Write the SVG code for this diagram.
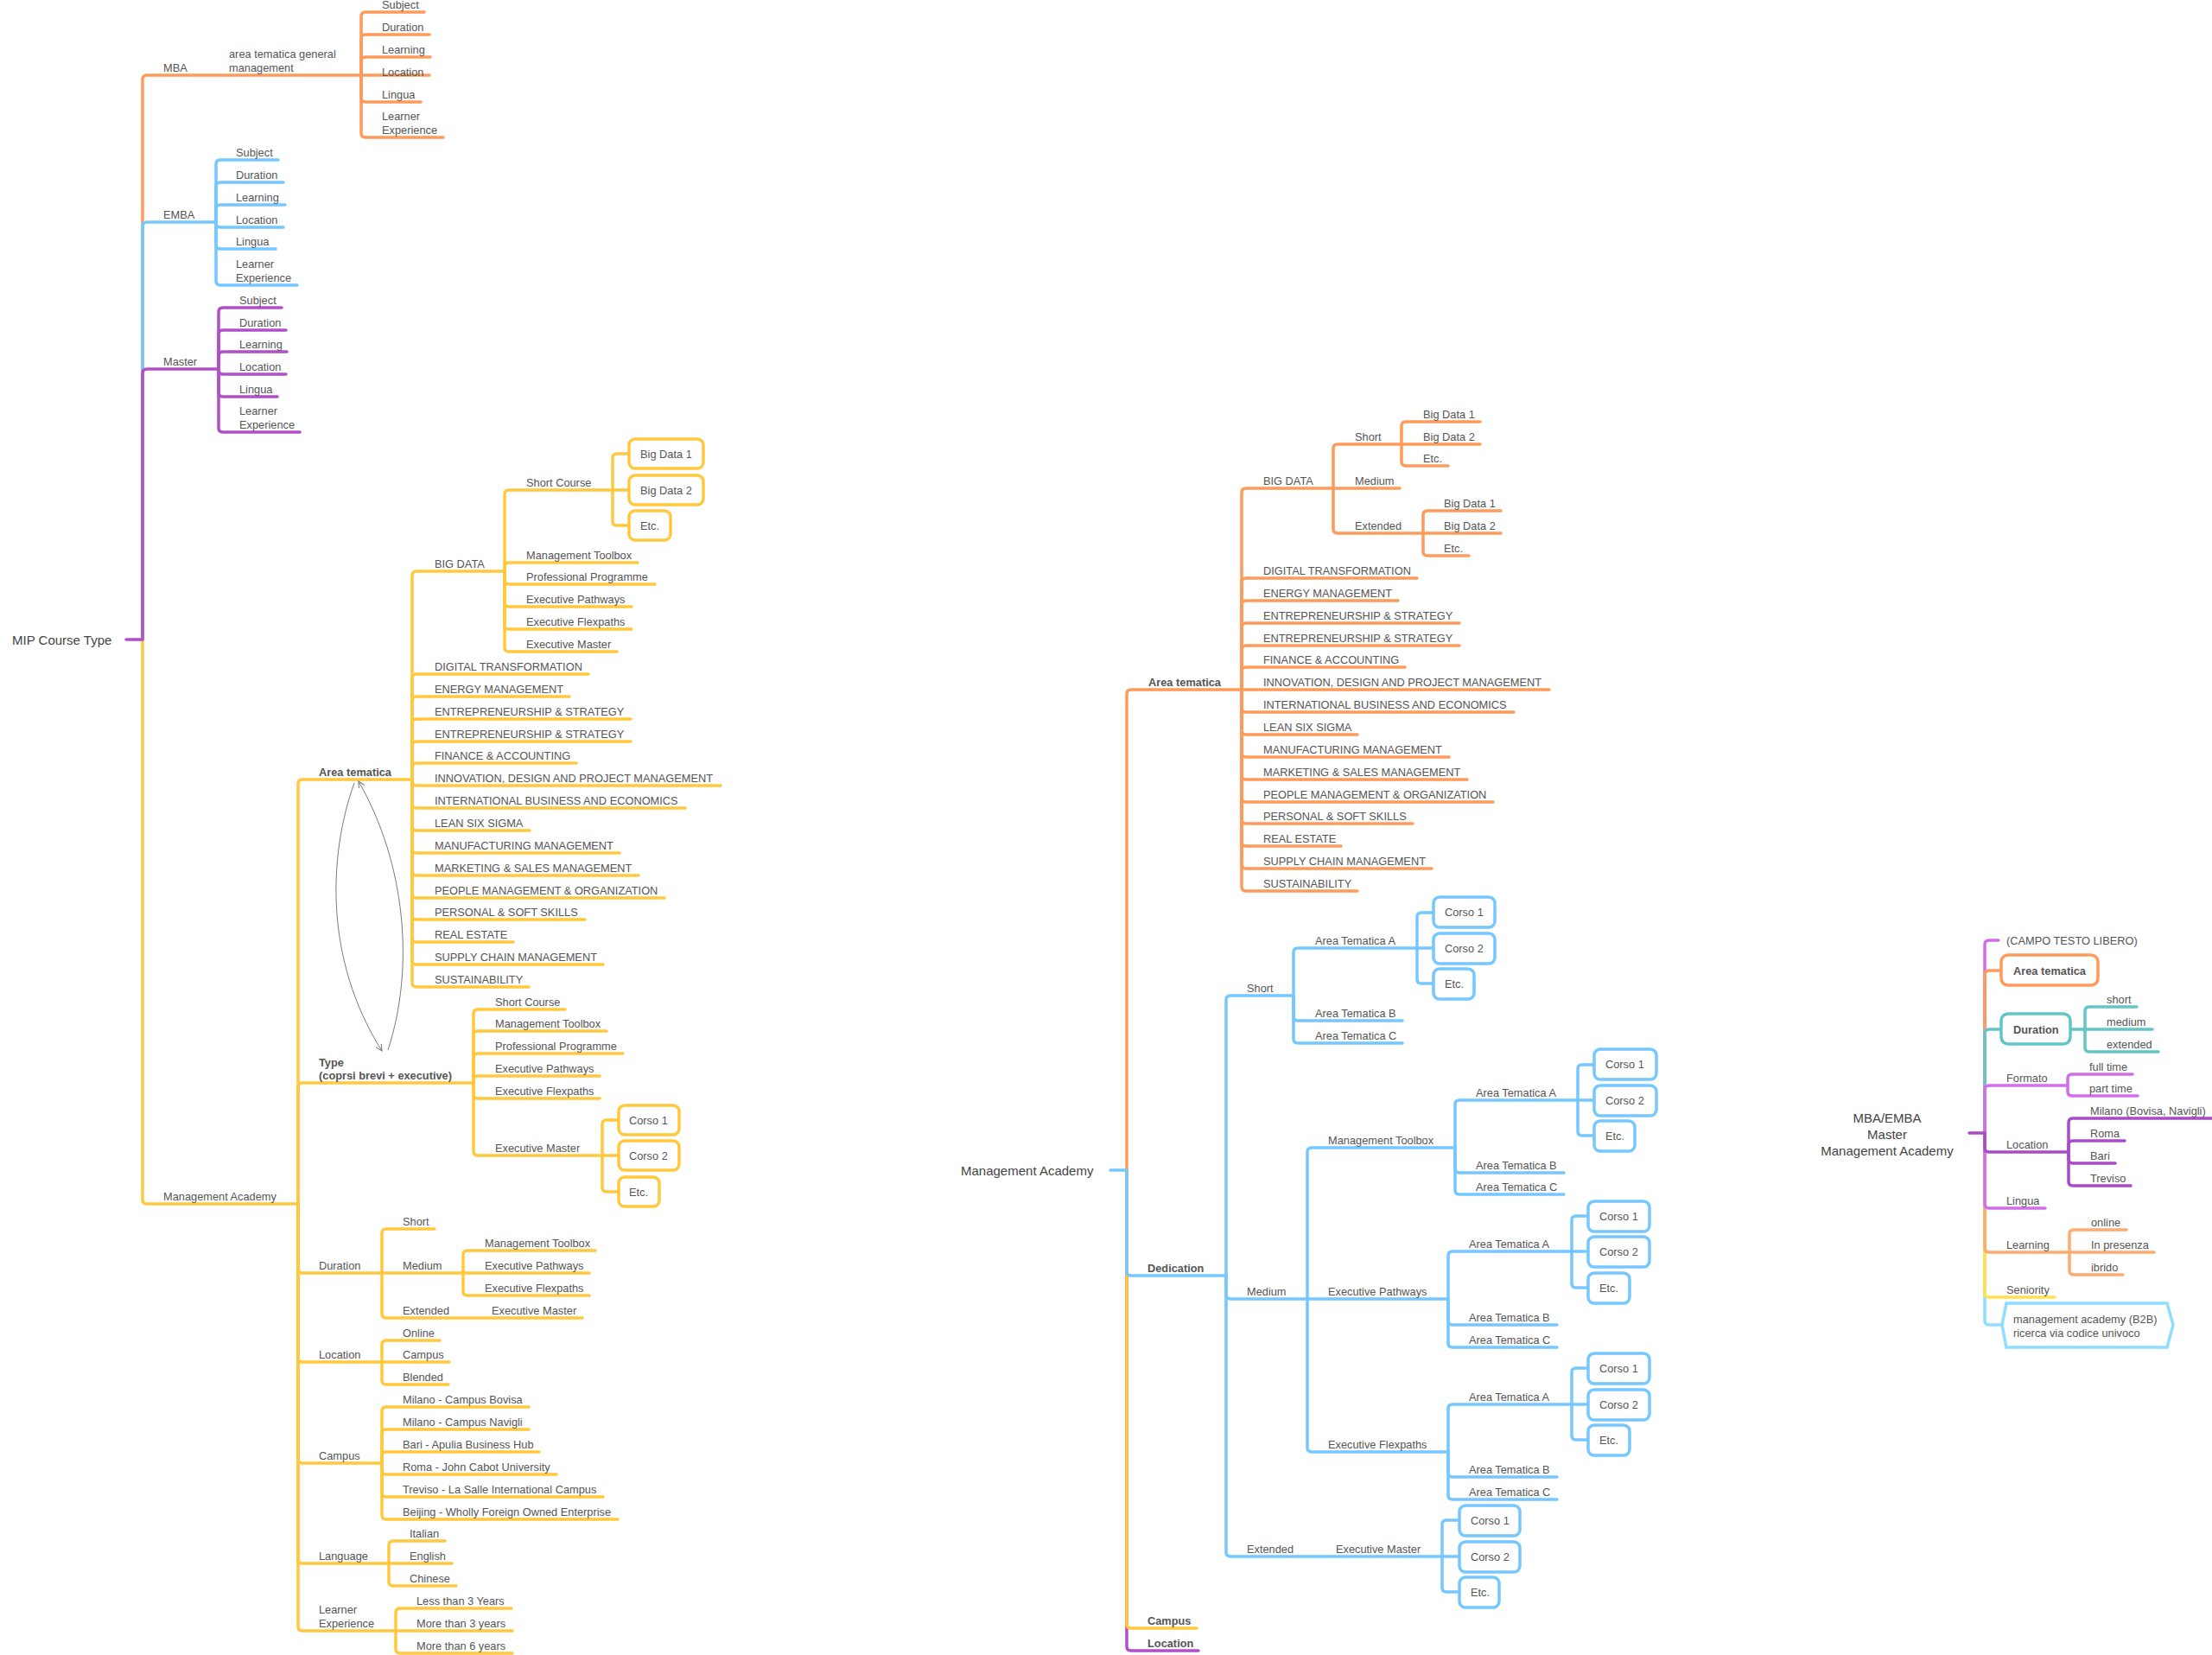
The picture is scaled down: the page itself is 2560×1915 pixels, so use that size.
<svg xmlns="http://www.w3.org/2000/svg" width="2560" height="1915" viewBox="0 0 2560 1915">
<style>
.c{fill:none;stroke-width:3.5;stroke-linecap:round;stroke-linejoin:round}
.o{stroke:#FF9B5A}.b{stroke:#74C7FF}.p{stroke:#B14FCB}.y{stroke:#FFC83D}
.t{stroke:#62C6C9}.lp{stroke:#D16EE8}.dp{stroke:#A94BC6}.lo{stroke:#FFAA6E}.by{stroke:#FFE24A}.cy{stroke:#8FDDFF}
.box{fill:#fff;stroke-width:3.5}
text{font-family:"Liberation Sans",Arial,Helvetica,sans-serif;font-size:12.8px;fill:#555}
.bd{font-weight:bold}
.rt{font-size:15px;fill:#444}
.rel{fill:none;stroke:#7a7a7a;stroke-width:1}
</style>
<defs>
<marker id="arr" viewBox="0 0 10 10" refX="9" refY="5" markerWidth="9" markerHeight="9" orient="auto" markerUnits="userSpaceOnUse">
<path d="M1,1 L9,5 L1,9" fill="none" stroke="#7a7a7a" stroke-width="1.2"/>
</marker>
</defs>
<rect width="2560" height="1915" fill="#fff"/>
<g id="connectors">
<!-- LEFT TREE -->
<path class="c o" d="M165 740V92Q165 87 170 87H418"/>
<path class="c b" d="M165 740V262Q165 257 170 257H250"/>
<path class="c p" d="M165 740V432Q165 427 170 427H253"/>
<path class="c y" d="M165 740V1388Q165 1393 170 1393H345"/>
<path class="c p" d="M146 740H165"/>
<g class="c o">
<path d="M418 87V19Q418 14 423 14H491"/><path d="M418 87V45Q418 40 423 40H497"/><path d="M418 87V71Q418 66 423 66H498"/><path d="M418 87H497"/><path d="M418 87V113Q418 118 423 118H487"/><path d="M418 87V154Q418 159 423 159H513"/>
</g>
<g class="c b">
<path d="M250 257V190Q250 185 255 185H322"/><path d="M250 257V216Q250 211 255 211H328"/><path d="M250 257V242Q250 237 255 237H330"/><path d="M250 257V258Q250 263 255 263H328"/><path d="M250 257V283Q250 288 255 288H319"/><path d="M250 257V325Q250 330 255 330H344"/>
</g>
<g class="c p">
<path d="M253 427V361Q253 356 258 356H326"/><path d="M253 427V387Q253 382 258 382H331"/><path d="M253 427V412Q253 407 258 407H332"/><path d="M253 427V428Q253 433 258 433H331"/><path d="M253 427V454Q253 459 258 459H321"/><path d="M253 427V495Q253 500 258 500H347"/>
</g>
<g class="c y">
<path d="M345 1393V907Q345 902 350 902H477"/><path d="M345 1393V1258Q345 1253 350 1253H548"/><path d="M345 1393V1468Q345 1473 350 1473H442"/><path d="M345 1393V1571Q345 1576 350 1576H442"/><path d="M345 1393V1688Q345 1693 350 1693H442"/><path d="M345 1393V1804Q345 1809 350 1809H450"/><path d="M345 1393V1882Q345 1887 350 1887H458"/>
<path d="M477 902V666Q477 661 482 661H584"/><path d="M477 902V785Q477 780 482 780H681"/><path d="M477 902V811Q477 806 482 806H659"/><path d="M477 902V837Q477 832 482 832H730"/><path d="M477 902V863Q477 858 482 858H730"/><path d="M477 902V888Q477 883 482 883H667"/><path d="M477 902V904Q477 909 482 909H834"/><path d="M477 902V930Q477 935 482 935H793"/><path d="M477 902V956Q477 961 482 961H613"/><path d="M477 902V982Q477 987 482 987H717"/><path d="M477 902V1008Q477 1013 482 1013H739"/><path d="M477 902V1034Q477 1039 482 1039H769"/><path d="M477 902V1059Q477 1064 482 1064H677"/><path d="M477 902V1085Q477 1090 482 1090H594"/><path d="M477 902V1111Q477 1116 482 1116H698"/><path d="M477 902V1137Q477 1142 482 1142H612"/>
<path d="M584 661V572Q584 567 589 567H709"/><path d="M584 661V656Q584 651 589 651H738"/><path d="M584 661V671Q584 676 589 676H758"/><path d="M584 661V697Q584 702 589 702H731"/><path d="M584 661V723Q584 728 589 728H731"/><path d="M584 661V749Q584 754 589 754H714"/>
<path d="M709 567V530Q709 525 714 525H728"/><path d="M709 567H728"/><path d="M709 567V603Q709 608 714 608H728"/>
<path d="M548 1253V1173Q548 1168 553 1168H654"/><path d="M548 1253V1198Q548 1193 553 1193H702"/><path d="M548 1253V1224Q548 1219 553 1219H721"/><path d="M548 1253V1250Q548 1245 553 1245H694"/><path d="M548 1253V1266Q548 1271 553 1271H694"/><path d="M548 1253V1332Q548 1337 553 1337H697"/>
<path d="M697 1337V1301Q697 1296 702 1296H716"/><path d="M697 1337H716"/><path d="M697 1337V1374Q697 1379 702 1379H716"/>
<path d="M442 1473V1427Q442 1422 447 1422H503"/><path d="M442 1473H536"/><path d="M442 1473V1520Q442 1525 447 1525H674"/>
<path d="M536 1473V1452Q536 1447 541 1447H689"/><path d="M536 1473H682"/><path d="M536 1473V1494Q536 1499 541 1499H682"/>
<path d="M442 1576V1556Q442 1551 447 1551H509"/><path d="M442 1576H520"/><path d="M442 1576V1597Q442 1602 447 1602H519"/>
<path d="M442 1693V1633Q442 1628 447 1628H612"/><path d="M442 1693V1659Q442 1654 447 1654H612"/><path d="M442 1693V1685Q442 1680 447 1680H624"/><path d="M442 1693V1701Q442 1706 447 1706H644"/><path d="M442 1693V1727Q442 1732 447 1732H698"/><path d="M442 1693V1753Q442 1758 447 1758H715"/>
<path d="M450 1809V1788Q450 1783 455 1783H515"/><path d="M450 1809H523"/><path d="M450 1809V1830Q450 1835 455 1835H528"/>
<path d="M458 1887V1866Q458 1861 463 1861H592"/><path d="M458 1887H593"/><path d="M458 1887V1908Q458 1913 463 1913H593"/>
</g>
<path class="rel" d="M410 906C380 990 375 1110 442 1216" marker-end="url(#arr)"/>
<path class="rel" d="M449 1215C480 1120 470 1000 415 904" marker-end="url(#arr)"/>
<!-- MIDDLE TREE -->
<path class="c p" d="M1304 1354V1905Q1304 1910 1309 1910H1387"/>
<path class="c y" d="M1304 1354V1879Q1304 1884 1309 1884H1385"/>
<path class="c b" d="M1304 1354V1471Q1304 1476 1309 1476H1419"/>
<path class="c o" d="M1304 1354V803Q1304 798 1309 798H1437"/>
<path class="c b" d="M1285 1354H1304"/>
<g class="c o">
<path d="M1437 798V570Q1437 565 1442 565H1543"/><path d="M1437 798V674Q1437 669 1442 669H1640"/><path d="M1437 798V700Q1437 695 1442 695H1618"/><path d="M1437 798V726Q1437 721 1442 721H1689"/><path d="M1437 798V752Q1437 747 1442 747H1689"/><path d="M1437 798V777Q1437 772 1442 772H1626"/><path d="M1437 798H1793"/><path d="M1437 798V819Q1437 824 1442 824H1752"/><path d="M1437 798V845Q1437 850 1442 850H1571"/><path d="M1437 798V871Q1437 876 1442 876H1677"/><path d="M1437 798V897Q1437 902 1442 902H1698"/><path d="M1437 798V923Q1437 928 1442 928H1728"/><path d="M1437 798V948Q1437 953 1442 953H1635"/><path d="M1437 798V974Q1437 979 1442 979H1552"/><path d="M1437 798V1000Q1437 1005 1442 1005H1657"/><path d="M1437 798V1026Q1437 1031 1442 1031H1571"/>
<path d="M1543 565V519Q1543 514 1548 514H1622"/><path d="M1543 565H1620"/><path d="M1543 565V612Q1543 617 1548 617H1647"/>
<path d="M1622 514V493Q1622 488 1627 488H1713"/><path d="M1622 514H1713"/><path d="M1622 514V534Q1622 539 1627 539H1676"/>
<path d="M1647 617V596Q1647 591 1652 591H1737"/><path d="M1647 617H1737"/><path d="M1647 617V638Q1647 643 1652 643H1700"/>
</g>
<g class="c b">
<path d="M1419 1476V1157Q1419 1152 1424 1152H1497"/><path d="M1419 1476V1498Q1419 1503 1424 1503H1513"/><path d="M1419 1476V1796Q1419 1801 1424 1801H1669"/>
<path d="M1497 1152V1102Q1497 1097 1502 1097H1640"/><path d="M1497 1152V1176Q1497 1181 1502 1181H1623"/><path d="M1497 1152V1202Q1497 1207 1502 1207H1623"/>
<path d="M1640 1097V1061Q1640 1056 1645 1056H1659"/><path d="M1640 1097H1659"/><path d="M1640 1097V1133Q1640 1138 1645 1138H1659"/>
<path d="M1513 1503V1333Q1513 1328 1518 1328H1684"/><path d="M1513 1503H1676"/><path d="M1513 1503V1675Q1513 1680 1518 1680H1676"/>
<path d="M1684 1328V1278Q1684 1273 1689 1273H1826"/><path d="M1684 1328V1352Q1684 1357 1689 1357H1810"/><path d="M1684 1328V1377Q1684 1382 1689 1382H1810"/>
<path d="M1826 1273V1237Q1826 1232 1831 1232H1845"/><path d="M1826 1273H1845"/><path d="M1826 1273V1309Q1826 1314 1831 1314H1845"/>
<path d="M1676 1503V1453Q1676 1448 1681 1448H1819"/><path d="M1676 1503V1528Q1676 1533 1681 1533H1802"/><path d="M1676 1503V1554Q1676 1559 1681 1559H1802"/>
<path d="M1819 1448V1412Q1819 1407 1824 1407H1838"/><path d="M1819 1448H1838"/><path d="M1819 1448V1485Q1819 1490 1824 1490H1838"/>
<path d="M1676 1680V1630Q1676 1625 1681 1625H1819"/><path d="M1676 1680V1704Q1676 1709 1681 1709H1802"/><path d="M1676 1680V1730Q1676 1735 1681 1735H1802"/>
<path d="M1819 1625V1588Q1819 1583 1824 1583H1838"/><path d="M1819 1625H1838"/><path d="M1819 1625V1661Q1819 1666 1824 1666H1838"/>
<path d="M1669 1801V1764Q1669 1759 1674 1759H1689"/><path d="M1669 1801H1689"/><path d="M1669 1801V1837Q1669 1842 1674 1842H1689"/>
</g>
<!-- RIGHT TREE -->
<path class="c lp" d="M2297 1311V1093Q2297 1088 2302 1088H2313"/>
<path class="c o" d="M2297 1311V1128Q2297 1123 2302 1123H2316"/>
<path class="c t" d="M2297 1311V1196Q2297 1191 2302 1191H2316"/>
<path class="c lp" d="M2297 1311V1261Q2297 1256 2302 1256H2393"/>
<path class="c cy" d="M2297 1311V1528Q2297 1533 2302 1533H2317"/>
<path class="c by" d="M2297 1311V1496Q2297 1501 2302 1501H2378"/>
<path class="c lo" d="M2297 1311V1444Q2297 1449 2302 1449H2395"/>
<path class="c lp" d="M2297 1311V1393Q2297 1398 2302 1398H2367"/>
<path class="c dp" d="M2297 1311V1328Q2297 1333 2302 1333H2394"/>
<path class="c dp" d="M2279 1311H2297"/>
<g class="c t"><path d="M2396 1191H2413"/><path d="M2413 1191V1170Q2413 1165 2418 1165H2473"/><path d="M2413 1191H2491"/><path d="M2413 1191V1212Q2413 1217 2418 1217H2498"/></g>
<g class="c lp"><path d="M2393 1256V1248Q2393 1243 2398 1243H2468"/><path d="M2393 1256V1263Q2393 1268 2398 1268H2474"/></g>
<g class="c dp"><path d="M2394 1333V1299Q2394 1294 2399 1294H2560"/><path d="M2394 1333V1325Q2394 1320 2399 1320H2459"/><path d="M2394 1333V1341Q2394 1346 2399 1346H2448"/><path d="M2394 1333V1367Q2394 1372 2399 1372H2466"/></g>
<g class="c lo"><path d="M2395 1449V1428Q2395 1423 2400 1423H2461"/><path d="M2395 1449H2493"/><path d="M2395 1449V1470Q2395 1475 2400 1475H2457"/></g>
</g>

<!-- LEFT TREE NODES -->
<g id="l-root"><text class="rt" x="14" y="745.5">MIP Course Type</text></g>
<g id="l-mba"><text x="189" y="82.5">MBA</text></g>
<g id="l-mba-area"><text x="265" y="67">area tematica general</text><text x="265" y="82.5">management</text></g>
<g id="l-mba-c"><text x="442" y="9.5">Subject</text><text x="442" y="35.5">Duration</text><text x="442" y="61.5">Learning</text><text x="442" y="87.5">Location</text><text x="442" y="113.5">Lingua</text><text x="442" y="139">Learner</text><text x="442" y="154.5">Experience</text></g>
<g id="l-emba"><text x="189" y="252.5">EMBA</text></g>
<g id="l-emba-c"><text x="273" y="180.5">Subject</text><text x="273" y="206.5">Duration</text><text x="273" y="232.5">Learning</text><text x="273" y="258.5">Location</text><text x="273" y="283.5">Lingua</text><text x="273" y="310">Learner</text><text x="273" y="325.5">Experience</text></g>
<g id="l-master"><text x="189" y="422.5">Master</text></g>
<g id="l-master-c"><text x="277" y="351.5">Subject</text><text x="277" y="377.5">Duration</text><text x="277" y="402.5">Learning</text><text x="277" y="428.5">Location</text><text x="277" y="454.5">Lingua</text><text x="277" y="480">Learner</text><text x="277" y="495.5">Experience</text></g>
<g id="l-ma"><text x="189" y="1388.5">Management Academy</text></g>
<g id="l-area"><text class="bd" x="369" y="897.5">Area tematica</text></g>
<g id="l-bigdata"><text x="503" y="656.5">BIG DATA</text></g>
<g id="l-bigdata-c"><text x="609" y="562.5">Short Course</text><text x="609" y="646.5">Management Toolbox</text><text x="609" y="671.5">Professional Programme</text><text x="609" y="697.5">Executive Pathways</text><text x="609" y="723.5">Executive Flexpaths</text><text x="609" y="749.5">Executive Master</text></g>
<g id="l-bd1"><rect class="box y" x="728" y="508" width="86" height="34" rx="7"/><text x="741" y="529.5">Big Data 1</text></g>
<g id="l-bd2"><rect class="box y" x="728" y="550" width="86" height="34" rx="7"/><text x="741" y="571.5">Big Data 2</text></g>
<g id="l-bdetc"><rect class="box y" x="728" y="591" width="48" height="34" rx="7"/><text x="741" y="612.5">Etc.</text></g>
<g id="l-area-c">
<text x="503" y="775.5">DIGITAL TRANSFORMATION</text><text x="503" y="801.5">ENERGY MANAGEMENT</text><text x="503" y="827.5">ENTREPRENEURSHIP &amp; STRATEGY</text><text x="503" y="853.5">ENTREPRENEURSHIP &amp; STRATEGY</text><text x="503" y="878.5">FINANCE &amp; ACCOUNTING</text><text x="503" y="904.5">INNOVATION, DESIGN AND PROJECT MANAGEMENT</text><text x="503" y="930.5">INTERNATIONAL BUSINESS AND ECONOMICS</text><text x="503" y="956.5">LEAN SIX SIGMA</text><text x="503" y="982.5">MANUFACTURING MANAGEMENT</text><text x="503" y="1008.5">MARKETING &amp; SALES MANAGEMENT</text><text x="503" y="1034.5">PEOPLE MANAGEMENT &amp; ORGANIZATION</text><text x="503" y="1059.5">PERSONAL &amp; SOFT SKILLS</text><text x="503" y="1085.5">REAL ESTATE</text><text x="503" y="1111.5">SUPPLY CHAIN MANAGEMENT</text><text x="503" y="1137.5">SUSTAINABILITY</text>
</g>
<g id="l-type"><text class="bd" x="369" y="1233.5">Type</text><text class="bd" x="369" y="1248.5">(coprsi brevi + executive)</text></g>
<g id="l-type-c"><text x="573" y="1163.5">Short Course</text><text x="573" y="1188.5">Management Toolbox</text><text x="573" y="1214.5">Professional Programme</text><text x="573" y="1240.5">Executive Pathways</text><text x="573" y="1266.5">Executive Flexpaths</text><text x="573" y="1332.5">Executive Master</text></g>
<g id="l-corso1"><rect class="box y" x="716" y="1279" width="70" height="34" rx="7"/><text x="728" y="1300.5">Corso 1</text></g>
<g id="l-corso2"><rect class="box y" x="716" y="1320" width="70" height="34" rx="7"/><text x="728" y="1341.5">Corso 2</text></g>
<g id="l-corsoetc"><rect class="box y" x="716" y="1362" width="47" height="34" rx="7"/><text x="728" y="1383.5">Etc.</text></g>
<g id="l-duration"><text x="369" y="1468.5">Duration</text><text x="466" y="1417.5">Short</text><text x="466" y="1468.5">Medium</text><text x="466" y="1520.5">Extended</text><text x="569" y="1520.5">Executive Master</text><text x="561" y="1442.5">Management Toolbox</text><text x="561" y="1468.5">Executive Pathways</text><text x="561" y="1494.5">Executive Flexpaths</text></g>
<g id="l-location"><text x="369" y="1571.5">Location</text><text x="466" y="1546.5">Online</text><text x="466" y="1571.5">Campus</text><text x="466" y="1597.5">Blended</text></g>
<g id="l-campus"><text x="369" y="1688.5">Campus</text><text x="466" y="1623.5">Milano - Campus Bovisa</text><text x="466" y="1649.5">Milano - Campus Navigli</text><text x="466" y="1675.5">Bari - Apulia Business Hub</text><text x="466" y="1701.5">Roma - John Cabot University</text><text x="466" y="1727.5">Treviso - La Salle International Campus</text><text x="466" y="1753.5">Beijing - Wholly Foreign Owned Enterprise</text></g>
<g id="l-language"><text x="369" y="1804.5">Language</text><text x="474" y="1778.5">Italian</text><text x="474" y="1804.5">English</text><text x="474" y="1830.5">Chinese</text></g>
<g id="l-learner"><text x="369" y="1867">Learner</text><text x="369" y="1882.5">Experience</text><text x="482" y="1856.5">Less than 3 Years</text><text x="482" y="1882.5">More than 3 years</text><text x="482" y="1908.5">More than 6 years</text></g>

<!-- MIDDLE TREE NODES -->
<g id="m-root"><text class="rt" x="1112" y="1360">Management Academy</text></g>
<g id="m-area"><text class="bd" x="1329" y="793.5">Area tematica</text></g>
<g id="m-bigdata"><text x="1462" y="560.5">BIG DATA</text><text x="1568" y="509.5">Short</text><text x="1568" y="560.5">Medium</text><text x="1568" y="612.5">Extended</text><text x="1647" y="483.5">Big Data 1</text><text x="1647" y="509.5">Big Data 2</text><text x="1647" y="534.5">Etc.</text><text x="1671" y="586.5">Big Data 1</text><text x="1671" y="612.5">Big Data 2</text><text x="1671" y="638.5">Etc.</text></g>
<g id="m-area-c">
<text x="1462" y="664.5">DIGITAL TRANSFORMATION</text><text x="1462" y="690.5">ENERGY MANAGEMENT</text><text x="1462" y="716.5">ENTREPRENEURSHIP &amp; STRATEGY</text><text x="1462" y="742.5">ENTREPRENEURSHIP &amp; STRATEGY</text><text x="1462" y="767.5">FINANCE &amp; ACCOUNTING</text><text x="1462" y="793.5">INNOVATION, DESIGN AND PROJECT MANAGEMENT</text><text x="1462" y="819.5">INTERNATIONAL BUSINESS AND ECONOMICS</text><text x="1462" y="845.5">LEAN SIX SIGMA</text><text x="1462" y="871.5">MANUFACTURING MANAGEMENT</text><text x="1462" y="897.5">MARKETING &amp; SALES MANAGEMENT</text><text x="1462" y="923.5">PEOPLE MANAGEMENT &amp; ORGANIZATION</text><text x="1462" y="948.5">PERSONAL &amp; SOFT SKILLS</text><text x="1462" y="974.5">REAL ESTATE</text><text x="1462" y="1000.5">SUPPLY CHAIN MANAGEMENT</text><text x="1462" y="1026.5">SUSTAINABILITY</text>
</g>
<g id="m-dedication"><text class="bd" x="1328" y="1471.5">Dedication</text></g>
<g id="m-short"><text x="1443" y="1147.5">Short</text><text x="1522" y="1092.5">Area Tematica A</text><text x="1522" y="1176.5">Area Tematica B</text><text x="1522" y="1202.5">Area Tematica C</text></g>
<g id="m-s-c1"><rect class="box b" x="1659" y="1038" width="71" height="35" rx="7"/><text x="1672" y="1060">Corso 1</text></g>
<g id="m-s-c2"><rect class="box b" x="1659" y="1080" width="71" height="35" rx="7"/><text x="1672" y="1102">Corso 2</text></g>
<g id="m-s-etc"><rect class="box b" x="1659" y="1121" width="47" height="35" rx="7"/><text x="1672" y="1143">Etc.</text></g>
<g id="m-medium"><text x="1443" y="1498.5">Medium</text><text x="1537" y="1323.5">Management Toolbox</text><text x="1537" y="1498.5">Executive Pathways</text><text x="1537" y="1675.5">Executive Flexpaths</text></g>
<g id="m-mt-c"><text x="1708" y="1268.5">Area Tematica A</text><text x="1708" y="1352.5">Area Tematica B</text><text x="1708" y="1377.5">Area Tematica C</text></g>
<g id="m-mt-c1"><rect class="box b" x="1845" y="1214" width="72" height="35" rx="7"/><text x="1858" y="1236">Corso 1</text></g>
<g id="m-mt-c2"><rect class="box b" x="1845" y="1256" width="72" height="35" rx="7"/><text x="1858" y="1278">Corso 2</text></g>
<g id="m-mt-etc"><rect class="box b" x="1845" y="1297" width="47" height="35" rx="7"/><text x="1858" y="1319">Etc.</text></g>
<g id="m-ep-c"><text x="1700" y="1443.5">Area Tematica A</text><text x="1700" y="1528.5">Area Tematica B</text><text x="1700" y="1554.5">Area Tematica C</text></g>
<g id="m-ep-c1"><rect class="box b" x="1838" y="1390" width="71" height="35" rx="7"/><text x="1851" y="1412">Corso 1</text></g>
<g id="m-ep-c2"><rect class="box b" x="1838" y="1431" width="71" height="35" rx="7"/><text x="1851" y="1453">Corso 2</text></g>
<g id="m-ep-etc"><rect class="box b" x="1838" y="1473" width="48" height="35" rx="7"/><text x="1851" y="1495">Etc.</text></g>
<g id="m-ef-c"><text x="1700" y="1620.5">Area Tematica A</text><text x="1700" y="1704.5">Area Tematica B</text><text x="1700" y="1730.5">Area Tematica C</text></g>
<g id="m-ef-c1"><rect class="box b" x="1838" y="1566" width="71" height="35" rx="7"/><text x="1851" y="1588">Corso 1</text></g>
<g id="m-ef-c2"><rect class="box b" x="1838" y="1608" width="71" height="35" rx="7"/><text x="1851" y="1630">Corso 2</text></g>
<g id="m-ef-etc"><rect class="box b" x="1838" y="1649" width="48" height="35" rx="7"/><text x="1851" y="1671">Etc.</text></g>
<g id="m-extended"><text x="1443" y="1796.5">Extended</text><text x="1546" y="1796.5">Executive Master</text></g>
<g id="m-ex-c1"><rect class="box b" x="1689" y="1742" width="70" height="35" rx="7"/><text x="1702" y="1764">Corso 1</text></g>
<g id="m-ex-c2"><rect class="box b" x="1689" y="1784" width="70" height="35" rx="7"/><text x="1702" y="1806">Corso 2</text></g>
<g id="m-ex-etc"><rect class="box b" x="1689" y="1825" width="46" height="35" rx="7"/><text x="1702" y="1847">Etc.</text></g>
<g id="m-campus"><text class="bd" x="1328" y="1879.5">Campus</text></g>
<g id="m-location"><text class="bd" x="1328" y="1905.5">Location</text></g>

<!-- RIGHT TREE NODES -->
<g id="r-root"><text class="rt" x="2184" y="1298.5" text-anchor="middle">MBA/EMBA</text><text class="rt" x="2184" y="1317.5" text-anchor="middle">Master</text><text class="rt" x="2184" y="1336.5" text-anchor="middle">Management Academy</text></g>
<g id="r-campo"><text x="2322" y="1092.5">(CAMPO TESTO LIBERO)</text></g>
<g id="r-area"><rect class="box o" x="2316" y="1105" width="112" height="35" rx="8" stroke-width="4"/><text class="bd" x="2330" y="1127.5">Area tematica</text></g>
<g id="r-duration"><rect class="box t" x="2316" y="1173" width="80" height="35" rx="8" stroke-width="4"/><text class="bd" x="2330" y="1195.5">Duration</text><text x="2438" y="1160.5">short</text><text x="2438" y="1186.5">medium</text><text x="2438" y="1212.5">extended</text></g>
<g id="r-formato"><text x="2322" y="1251.5">Formato</text><text x="2418" y="1238.5">full time</text><text x="2418" y="1263.5">part time</text></g>
<g id="r-location"><text x="2322" y="1328.5">Location</text><text x="2419" y="1289.5">Milano (Bovisa, Navigli)</text><text x="2419" y="1315.5">Roma</text><text x="2419" y="1341.5">Bari</text><text x="2419" y="1367.5">Treviso</text></g>
<g id="r-lingua"><text x="2322" y="1393.5">Lingua</text></g>
<g id="r-learning"><text x="2322" y="1444.5">Learning</text><text x="2420" y="1418.5">online</text><text x="2420" y="1444.5">In presenza</text><text x="2420" y="1470.5">ibrido</text></g>
<g id="r-seniority"><text x="2322" y="1496.5">Seniority</text></g>
<g id="r-b2b"><polygon class="box cy" points="2322,1508 2508,1508 2515,1533 2508,1559 2322,1559 2317,1533"/><text x="2330" y="1530.5">management academy (B2B)</text><text x="2330" y="1546.5">ricerca via codice univoco</text></g>
</svg>
